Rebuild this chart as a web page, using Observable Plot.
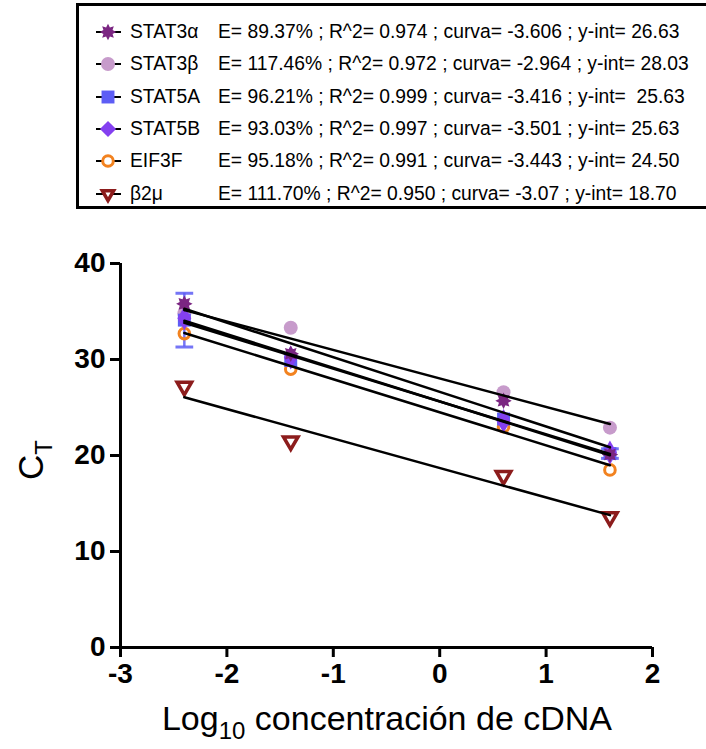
<!DOCTYPE html>
<html>
<head>
<meta charset="utf-8">
<script src="https://cdn.jsdelivr.net/npm/d3@7"></script>
<script src="https://cdn.jsdelivr.net/npm/@observablehq/plot@0.6"></script>
<style>
  body { margin: 0; background: #fff; }
  #page { position: relative; width: 706px; height: 749px; overflow: hidden; background: #fff;
          font-family: "Liberation Sans", Arial, Helvetica, sans-serif; color: #000; }
  #legendBox { position: absolute; left: 76px; top: 3px; width: 660px; height: 206px;
               border: 3px solid #000; box-sizing: border-box; }
  .row { position: absolute; height: 24px; line-height: 24px; font-size: 19.3px; white-space: pre; }
  .swatch { position: absolute; left: 92px; width: 30px; height: 24px; }
  #chart { position: absolute; left: 0; top: 220px; }
</style>
</head>
<body>
<div id="page">
  <div id="legendBox"></div>
  <div id="legend"></div>
  <div id="chart"></div>
</div>
<script>
// Standard curve: Ct vs log10 cDNA concentration, one series per gene
const xConc = [-2.4, -1.4, 0.6, 1.6];
const genes = ["STAT3α", "STAT3β", "STAT5A", "STAT5B", "EIF3F", "β2μ"];

const ctSTAT3a = [35.8, 30.6, 25.7, 20.1];
const ctSTAT3b = [34.8, 33.3, 26.6, 22.9];
const ctSTAT5A = [34.1, 29.9, 23.8, 20.2];
const ctSTAT5B = [34.3, 30.2, 23.6, 20.3];
const ctEIF3F  = [32.7, 29.0, 23.0, 18.5];
const ctB2M    = [27.2, 21.5, 17.9, 13.6];
const sdSTAT5A = [2.8, 0, 0, 0.5];

// Regression summaries per gene
const efficiency = ["89.37%", "117.46%", "96.21%", "93.03%", "95.18%", "111.70%"];
const rSquared   = ["0.974", "0.972", "0.999", "0.997", "0.991", "0.950"];
const curva      = ["-3.606", "-2.964", "-3.416", "-3.501", "-3.443", "-3.07"];
const yInt       = ["26.63", "28.03", " 25.63", "25.63", "24.50", "18.70"];

const xTicks = [-3, -2, -1, 0, 1, 2];
const yTicks = [0, 10, 20, 30, 40];

const geneColors = ["#7b2682", "#c79bcb", "#5d5df5", "#8440f0", "#f2821f", "#8c1c1c"];

const ctByGene = [ctSTAT3a, ctSTAT3b, ctSTAT5A, ctSTAT5B, ctEIF3F, ctB2M];

// Filled many-armed star used for STAT3α
const starburst = {
  draw(context, size) {
    const ro = Math.sqrt(size) * 0.62, ri = ro * 0.6, n = 8;
    for (let k = 0; k < 2 * n; ++k) {
      const a = (Math.PI * k) / n - Math.PI / 2;
      const r = k % 2 ? ri : ro;
      const px = r * Math.cos(a), py = r * Math.sin(a);
      k ? context.lineTo(px, py) : context.moveTo(px, py);
    }
    context.closePath();
  }
};
// Horizontal cap for error bars
const cap = {
  draw(context, size) {
    const w = Math.sqrt(size);
    context.moveTo(-w / 2, 0);
    context.lineTo(w / 2, 0);
  }
};

const markerStyle = {
  "STAT3α": {symbol: starburst, filled: true, r: 7.5},
  "STAT3β": {symbol: "circle", filled: true, r: 7},
  "STAT5A": {symbol: "square", filled: true, r: 7.3},
  "STAT5B": {symbol: "diamond", filled: true, r: 7.3},
  "EIF3F":  {symbol: "circle", filled: false, r: 5.3, sw: 3},
  "β2μ":    {symbol: "triangle", filled: false, r: 5.4, sw: 3.5, rotate: 180}
};
const drawOrder = ["β2μ", "EIF3F", "STAT3β", "STAT5A", "STAT5B", "STAT3α"];

const points = genes.flatMap((g, i) => ctByGene[i].map((y, j) => ({gene: g, x: xConc[j], y})));
const errs = xConc.map((x, j) => ({gene: "STAT5A", x, lo: ctSTAT5A[j] - sdSTAT5A[j], hi: ctSTAT5A[j] + sdSTAT5A[j], sd: sdSTAT5A[j]}))
  .filter(d => d.sd > 0);
const errCaps = errs.flatMap(d => [{gene: d.gene, x: d.x, y: d.lo}, {gene: d.gene, x: d.x, y: d.hi}]);

// Fitted lines Ct = slope * x + intercept over the dilution range
const xFit = d3.extent(xConc);
const fits = genes.flatMap((g, i) => xFit.map(x => ({gene: g, x, y: +yInt[i] + +curva[i] * x})));

const dotMarks = drawOrder.map(g => {
  const s = markerStyle[g];
  const o = {x: "x", y: "y", symbol: () => s.symbol, r: s.r};
  if (s.filled) { o.fill = "gene"; o.stroke = "none"; }
  else { o.fill = "none"; o.stroke = "gene"; o.strokeWidth = s.sw; }
  if (s.rotate) o.rotate = s.rotate;
  return Plot.dot(points.filter(d => d.gene === g), o);
});

const plot = Plot.plot({
  width: 706,
  height: 529,
  marginLeft: 120,
  marginRight: 54,
  marginTop: 43,
  marginBottom: 102,
  style: {fontFamily: '"Liberation Sans", Arial, Helvetica, sans-serif', color: "#000", background: "#fff", overflow: "visible"},
  x: {domain: [-3, 2]},
  y: {domain: [0, 40]},
  color: {domain: genes, range: geneColors},
  symbol: {type: "identity"},
  marks: [
    Plot.axisX({ticks: xTicks, tickFormat: d => String(d), tickSize: 10, tickPadding: 6, fontSize: 28, fontWeight: "bold", strokeWidth: 3, label: null}),
    Plot.axisY({ticks: yTicks, tickFormat: d => String(d), tickSize: 10, tickPadding: 5, fontSize: 28, fontWeight: "bold", strokeWidth: 3, label: null}),
    Plot.ruleY([0], {x1: -3, x2: 2, strokeWidth: 3}),
    Plot.ruleX([-3], {y1: 0, y2: 40, strokeWidth: 3}),
    Plot.ruleX(errs, {x: "x", y1: "lo", y2: "hi", stroke: "gene", strokeWidth: 2.5, strokeOpacity: 0.85}),
    Plot.dot(errCaps, {x: "x", y: "y", symbol: () => cap, r: 10, stroke: "gene", strokeWidth: 3, strokeOpacity: 0.85, fill: "none"}),
    ...dotMarks,
    Plot.line(fits, {x: "x", y: "y", z: "gene", stroke: "#000", strokeWidth: 2.5})
  ]
});

document.getElementById("chart").appendChild(plot);

// Axis titles with subscripts
const svg = d3.select(plot);
const xt = svg.append("text")
  .attr("x", 387).attr("y", 510)
  .attr("text-anchor", "middle")
  .attr("font-size", 34)
  .attr("fill", "#000");
xt.append("tspan").text("Log");
xt.append("tspan").attr("font-size", 24).attr("dy", 9).text("10");
xt.append("tspan").attr("dy", -9).text(" concentración de cDNA");

const yt = svg.append("text")
  .attr("transform", "translate(43,240) rotate(-90)")
  .attr("text-anchor", "middle")
  .attr("font-size", 35)
  .attr("fill", "#000");
yt.append("tspan").text("C");
yt.append("tspan").attr("font-size", 24).attr("dy", 9).text("T");

// Legend rows: swatch (line + marker), gene name, regression summary
const color = plot.scale("color");
const legend = d3.select("#legend");
const rowY = [32, 64, 97, 129, 161, 194];
genes.forEach((g, i) => {
  const s = markerStyle[g];
  const sw = legend.append("svg").attr("class", "swatch")
    .style("left", "93px")
    .style("top", (rowY[i] - 12) + "px")
    .attr("viewBox", "-15 -12 30 24");
  sw.append("line").attr("x1", -12).attr("x2", 13).attr("stroke", "#000").attr("stroke-width", 2);
  let sym;
  if (s.symbol === starburst) sym = starburst;
  else if (s.symbol === "circle") sym = d3.symbolCircle;
  else if (s.symbol === "square") sym = d3.symbolSquare;
  else if (s.symbol === "diamond") sym = d3.symbolDiamond2;
  else sym = d3.symbolTriangle2;
  const p = sw.append("path")
    .attr("d", d3.symbol(sym, Math.PI * s.r * s.r)())
    .attr("transform", s.rotate ? `rotate(${s.rotate})` : null);
  if (s.filled) p.attr("fill", color.apply(g));
  else p.attr("fill", "#fff").attr("stroke", color.apply(g)).attr("stroke-width", s.sw);
  legend.append("div").attr("class", "row")
    .style("left", "130px").style("top", (rowY[i] - 12) + "px")
    .text(g);
  legend.append("div").attr("class", "row")
    .style("left", "218px").style("top", (rowY[i] - 12) + "px")
    .text(`E= ${efficiency[i]} ; R^2= ${rSquared[i]} ; curva= ${curva[i]} ; y-int= ${yInt[i]}`);
});
</script>
</body>
</html>
